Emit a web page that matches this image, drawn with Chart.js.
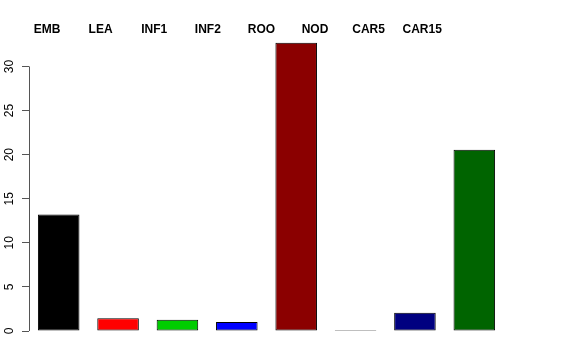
<!DOCTYPE html>
<html>
<head>
<meta charset="utf-8">
<script src="https://cdn.jsdelivr.net/npm/chart.js@4/dist/chart.umd.min.js"></script>
<style>
  html, body { margin: 0; padding: 0; background: #fff; }
  #wrap { width: 576px; height: 360px; }
</style>
</head>
<body>
<div id="wrap"><canvas id="chart" width="576" height="360"></canvas></div>
<script>
const categories = ['EMB', 'LEA', 'INF1', 'INF2', 'ROO', 'NOD', 'CAR5', 'CAR15'];
const values = [13.2, 1.45, 1.28, 1.02, 32.7, 0.1, 2.08, 20.55];
const barColors = ['#000000', '#FF0000', '#00CD00', '#0000FF', '#8B0000', '#3a2a3a', '#000080', '#006400'];
const yTicks = [0, 5, 10, 15, 20, 25, 30];

Chart.defaults.font.family = '"Liberation Sans", Arial, sans-serif';
Chart.defaults.color = '#000';

// R-style axis line that only spans the tick range
const axisLine = {
    id: 'axisLine',
    afterDraw(chart) {
        const y = chart.scales.y;
        const ctx = chart.ctx;
        ctx.save();
        ctx.strokeStyle = '#555';
        ctx.lineWidth = 1;
        ctx.beginPath();
        ctx.moveTo(y.right + 0.5, y.getPixelForValue(yTicks[0]));
        ctx.lineTo(y.right + 0.5, y.getPixelForValue(yTicks[yTicks.length - 1]));
        ctx.stroke();
        ctx.restore();
    }
};

new Chart(document.querySelector('#chart').getContext('2d'), {
    type: 'bar',
    data: {
        labels: categories,
        datasets: [{
            data: values,
            backgroundColor: barColors,
            borderColor: '#000',
            borderWidth: 1,
            borderSkipped: false,
            barPercentage: 0.7,
            categoryPercentage: 1
        }]
    },
    options: {
        responsive: false,
        animation: false,
        layout: { padding: { left: 0, right: 72, top: 0, bottom: 29 } },
        plugins: { legend: { display: false }, tooltip: { enabled: false } },
        scales: {
            x: {
                display: false,
                offset: true
            },
            top: {
                type: 'linear',
                position: 'top',
                offset: false,
                min: -0.336,
                max: 8.526,
                grid: { display: false },
                border: { display: false },
                afterBuildTicks: (scale) => {
                    scale.ticks = categories.map((c, i) => ({ value: i }));
                },
                afterFit: (scale) => { scale.height = 40; },
                ticks: {
                    autoSkip: false,
                    maxRotation: 0,
                    padding: -5,
                    font: { size: 12, weight: 'bold' },
                    callback: (v) => categories[v]
                }
            },
            y: {
                min: 0,
                max: 33,
                afterBuildTicks: (scale) => {
                    scale.ticks = yTicks.map(v => ({ value: v }));
                },
                afterFit: (scale) => { scale.width = 29; },
                grid: {
                    drawOnChartArea: false,
                    tickLength: 7,
                    color: '#555'
                },
                border: { display: false },
                ticks: {
                    minRotation: 90,
                    maxRotation: 90,
                    crossAlign: 'center',
                    padding: 6,
                    font: { size: 12 }
                }
            }
        }
    },
    plugins: [axisLine]
});
</script>
</body>
</html>
